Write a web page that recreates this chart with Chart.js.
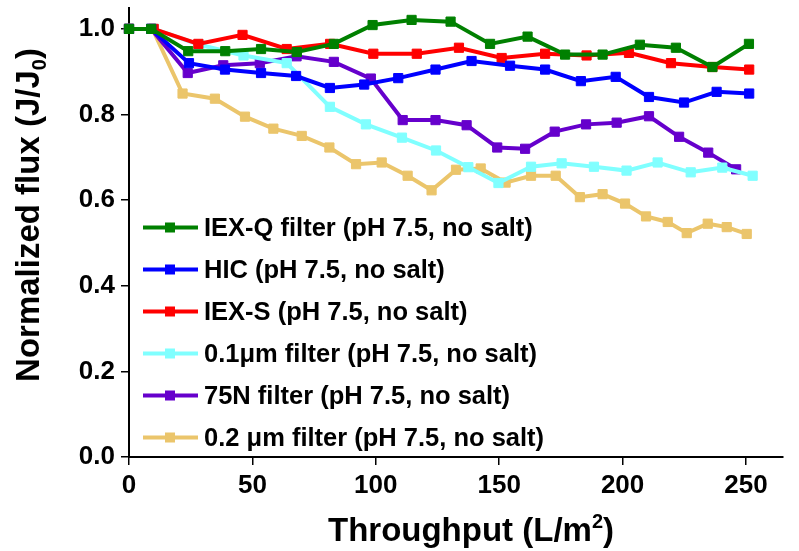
<!DOCTYPE html>
<html>
<head>
<meta charset="utf-8">
<script src="https://cdn.jsdelivr.net/npm/chart.js@4/dist/chart.umd.min.js"></script>
<style>
  html, body { margin: 0; padding: 0; background: #fff; }
</style>
</head>
<body>
<canvas id="flux-chart" width="799" height="551"></canvas>
<script>
// values (throughput in L/m2, flux normalised)
const xTicks = [0, 50, 100, 150, 200, 250];
const yTicks = [0, 0.2, 0.4, 0.6, 0.8, 1.0];

const labels = [
  'IEX-Q filter (pH 7.5, no salt)',
  'HIC (pH 7.5, no salt)',
  'IEX-S (pH 7.5, no salt)',
  '0.1\u03bcm filter (pH 7.5, no salt)',
  '75N filter (pH 7.5, no salt)',
  '0.2 \u03bcm filter (pH 7.5, no salt)',
];
const colors = ['#008000', '#0000ff', '#ff0000', '#80ffff', '#6600cc', '#ebc56b'];

const iexqX = [0, 9, 24, 39, 53.5, 68, 83, 98.7, 114.5, 130.3, 146.3, 161.5, 176.7, 191.9, 207, 221.6, 236.4, 251.2];
const iexqY = [1.0, 1.0, 0.948, 0.948, 0.953, 0.946, 0.965, 1.009, 1.021, 1.017, 0.965, 0.982, 0.94, 0.94, 0.963, 0.956, 0.911, 0.965];

const hicX = [0, 9, 24.3, 38.9, 53.5, 67.7, 81.4, 95.3, 109.1, 124.2, 138.8, 154.4, 168.6, 183.1, 197.2, 210.7, 224.9, 238.1, 251.3];
const hicY = [1.0, 1.0, 0.92, 0.905, 0.897, 0.89, 0.862, 0.87, 0.885, 0.905, 0.925, 0.914, 0.905, 0.878, 0.888, 0.841, 0.828, 0.853, 0.849];

const iexsX = [0, 10, 28.1, 46, 63.9, 81.5, 99, 116.6, 133.7, 151, 168.6, 185.4, 202.6, 219.6, 236.4, 251.3];
const iexsY = [1.0, 1.0, 0.965, 0.986, 0.953, 0.965, 0.942, 0.942, 0.956, 0.932, 0.942, 0.938, 0.944, 0.92, 0.911, 0.905];

const f01X = [0, 10, 28.5, 46.4, 63.9, 81.4, 96, 110.6, 124.4, 137.5, 149.7, 162.9, 175.3, 188.4, 201.6, 214.2, 227.6, 240.4, 252.7];
const f01Y = [1.0, 1.0, 0.963, 0.938, 0.92, 0.818, 0.777, 0.746, 0.716, 0.677, 0.64, 0.678, 0.686, 0.678, 0.669, 0.688, 0.665, 0.676, 0.657];

const n75X = [0, 9, 23.8, 38.2, 53, 67.9, 83, 98, 110.9, 124.2, 136.8, 149.2, 160.5, 172.5, 185.2, 197.6, 210.7, 222.9, 234.7, 246];
const n75Y = [1.0, 1.0, 0.897, 0.915, 0.92, 0.936, 0.923, 0.884, 0.787, 0.787, 0.775, 0.723, 0.72, 0.76, 0.777, 0.781, 0.796, 0.748, 0.711, 0.672];

const f02X = [0, 9.5, 21.7, 34.8, 47, 58.5, 70, 81.2, 92, 102.4, 112.9, 122.6, 132.5, 142.5, 152.6, 162.9, 172.9, 182.7, 191.9, 201, 209.5, 218.3, 226, 234.5, 242.2, 250.3];
const f02Y = [1.0, 1.0, 0.849, 0.837, 0.795, 0.767, 0.75, 0.723, 0.684, 0.688, 0.657, 0.623, 0.671, 0.674, 0.641, 0.657, 0.657, 0.607, 0.614, 0.592, 0.562, 0.549, 0.523, 0.545, 0.537, 0.521];

const seriesX = [iexqX, hicX, iexsX, f01X, n75X, f02X];
const seriesY = [iexqY, hicY, iexsY, f01Y, n75Y, f02Y];

const FONT = 'Arial, "Liberation Sans", Helvetica, sans-serif';

function toPoints(xs, ys) {
  return xs.map((x, i) => ({ x, y: ys[i] }));
}

function buildDataset(i) {
  return {
    label: labels[i],
    data: toPoints(seriesX[i], seriesY[i]),
    borderColor: colors[i],
    backgroundColor: colors[i],
    pointBackgroundColor: colors[i],
    pointBorderColor: colors[i],
    borderWidth: 4,
    pointStyle: 'rect',
    pointRadius: 6.5,
    pointBorderWidth: 1,
    tension: 0,
    clip: false,
  };
}

// text with a small raised/lowered part, e.g. m^2 or J_0
function drawRich(ctx, parts, size, cx, baseline) {
  const small = Math.round(size * 0.62);
  let total = 0;
  parts.forEach(([txt, mode]) => {
    ctx.font = `bold ${mode ? small : size}px ${FONT}`;
    total += ctx.measureText(txt).width;
  });
  let x = cx - total / 2;
  ctx.textAlign = 'left';
  ctx.textBaseline = 'alphabetic';
  parts.forEach(([txt, mode]) => {
    ctx.font = `bold ${mode ? small : size}px ${FONT}`;
    const dy = mode === 1 ? -size * 0.4 : mode === -1 ? size * 0.22 : 0;
    ctx.fillText(txt, x, baseline + dy);
    x += ctx.measureText(txt).width;
  });
}

const axisTitles = {
  id: 'axisTitles',
  afterDraw(chart) {
    const { ctx, chartArea } = chart;
    ctx.save();
    ctx.fillStyle = '#000';
    drawRich(ctx, [['Throughput (L/m', 0], ['2', 1], [')', 0]], 33, chartArea.left + 342, chartArea.bottom + 84);
    ctx.translate(38.5, 215);
    ctx.rotate(-Math.PI / 2);
    drawRich(ctx, [['Normalized flux (J/J', 0], ['0', -1], [')', 0]], 33, 0, 0);
    ctx.restore();
  },
};

const boxLegend = {
  id: 'boxLegend',
  afterDatasetsDraw(chart) {
    const { ctx, chartArea } = chart;
    const x0 = chartArea.left + 14;
    let y = chartArea.top + 220;
    ctx.save();
    chart.data.datasets.forEach(ds => {
      ctx.strokeStyle = ds.borderColor;
      ctx.lineWidth = 4;
      ctx.beginPath();
      ctx.moveTo(x0, y);
      ctx.lineTo(x0 + 55, y);
      ctx.stroke();
      ctx.fillStyle = ds.borderColor;
      ctx.fillRect(x0 + 27 - 5, y - 5, 10, 10);
      ctx.fillStyle = '#000';
      ctx.font = `bold 25.5px ${FONT}`;
      ctx.textAlign = 'left';
      ctx.textBaseline = 'middle';
      ctx.fillText(ds.label, x0 + 61, y + 1);
      y += 42;
    });
    ctx.restore();
  },
};

const tickFont = { family: FONT, size: 26, weight: 'bold' };

new Chart(document.getElementById('flux-chart'), {
  type: 'line',
  data: { datasets: labels.map((_, i) => buildDataset(i)) },
  options: {
    responsive: false,
    animation: false,
    layout: { padding: { top: 5, right: 16, left: 0, bottom: 0 } },
    plugins: { legend: { display: false }, tooltip: { enabled: false } },
    scales: {
      x: {
        type: 'linear',
        min: 0,
        max: 265,
        afterBuildTicks: s => { s.ticks = xTicks.map(v => ({ value: v })); },
        afterFit: s => { s.height = 94; s.paddingLeft = 0; s.paddingRight = 0; },
        ticks: { font: tickFont, color: '#000', padding: 5, maxRotation: 0, callback: v => String(v) },
        grid: { drawOnChartArea: false, tickLength: 8, color: '#000', lineWidth: 1.5 },
        border: { color: '#000', width: 2 },
      },
      y: {
        type: 'linear',
        min: 0,
        max: 1.05,
        afterBuildTicks: s => { s.ticks = yTicks.map(v => ({ value: v })); },
        afterFit: s => { s.width = 129; s.paddingTop = 0; s.paddingBottom = 0; },
        ticks: { font: tickFont, color: '#000', padding: 6, callback: v => v.toFixed(1) },
        grid: { drawOnChartArea: false, tickLength: 8, color: '#000', lineWidth: 1.5 },
        border: { color: '#000', width: 2 },
      },
    },
  },
  plugins: [boxLegend, axisTitles],
});
</script>
</body>
</html>
